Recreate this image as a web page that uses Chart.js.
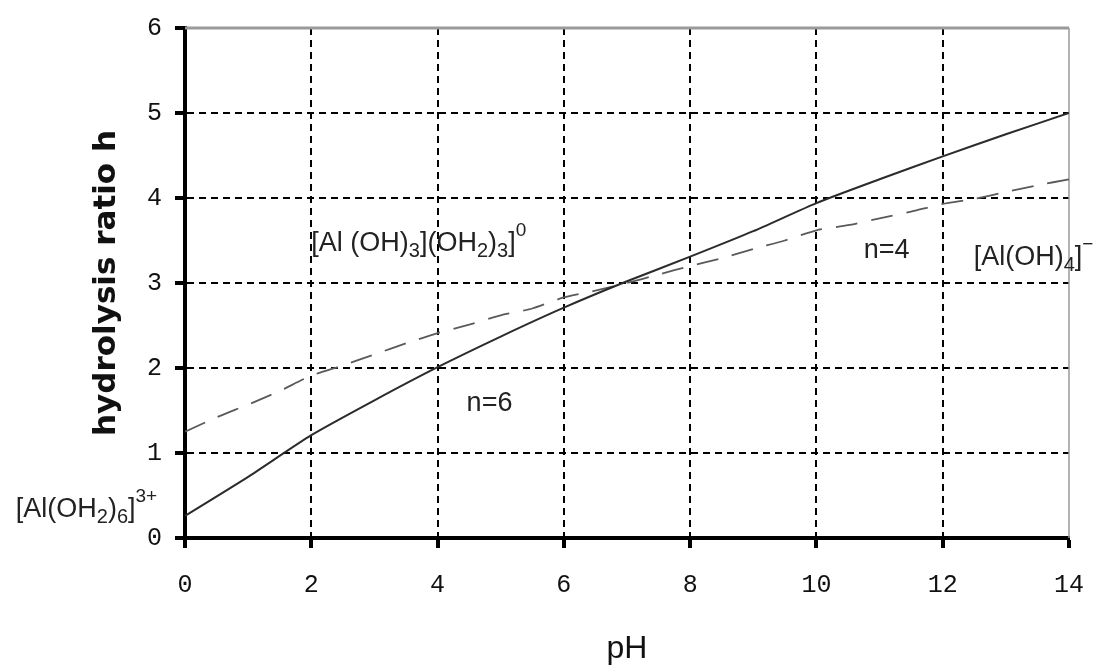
<!DOCTYPE html>
<html>
<head>
<meta charset="utf-8">
<script src="https://cdn.jsdelivr.net/npm/chart.js@4.4.0/dist/chart.umd.min.js"></script>
<style>
  body { margin: 0; background: #fff; }
  #wrap { width: 1106px; height: 667px; }
</style>
</head>
<body>
<div id="wrap"><canvas id="chart" width="1106" height="667"></canvas></div>
<script>
// n=6 curve (solid)
const phN6 = [0, 1, 2, 3, 4, 5, 6, 7, 8, 9, 10, 11, 12, 13, 14];
const hN6 = [0.26, 0.72, 1.21, 1.62, 2.01, 2.37, 2.71, 3.02, 3.31, 3.61, 3.94, 4.22, 4.49, 4.75, 5.0];

// n=4 curve (dashed)
const phN4 = [0, 0.5, 1, 1.5, 2, 2.5, 3, 3.5, 4, 4.5, 5, 5.5, 6, 6.5, 7, 7.5, 8, 8.5, 9, 9.5, 10, 10.5, 11, 11.5, 12, 12.5, 13, 13.5, 14];
const hN4 = [1.25, 1.42, 1.57, 1.73, 1.91, 2.03, 2.16, 2.29, 2.41, 2.51, 2.62, 2.70, 2.83, 2.91, 3.0, 3.1, 3.2, 3.29, 3.40, 3.50, 3.62, 3.68, 3.76, 3.84, 3.93, 3.99, 4.07, 4.15, 4.22];

const xRange = [0, 14];
const yRange = [0, 6];

// text labels on the plot, anchored in data units
const notes = [
    { x: -2.68, y: 0.244, parts: [["[Al(OH", 0], ["2", 1], [")", 0], ["6", 1], ["]", 0], ["3+", 2]] },
    { x: 2.0, y: 3.38, parts: [["[Al (OH", 0], [")", 0], ["3", 1], ["](OH", 0], ["2", 1], [")", 0], ["3", 1], ["]", 0], ["0", 2]] },
    { x: 10.75, y: 3.29, parts: [["n=4", 0]] },
    { x: 12.49, y: 3.21, parts: [["[Al(OH)", 0], ["4", 1], ["]", 0], ["\u2212", 2]] },
    { x: 4.46, y: 1.49, parts: [["n=6", 0]] },
];

const toPoints = (xs, ys) => xs.map((v, i) => ({ x: v, y: ys[i] }));

const framePlugin = {
    id: "frame",
    beforeDatasetsDraw(chart) {
        const { ctx, chartArea: a } = chart;
        ctx.save();
        ctx.strokeStyle = "#9a9a9a";
        ctx.lineWidth = 3;
        ctx.beginPath();
        ctx.moveTo(a.left, a.top);
        ctx.lineTo(a.right, a.top);
        ctx.stroke();
        ctx.lineWidth = 1.5;
        ctx.beginPath();
        ctx.moveTo(a.right, a.top);
        ctx.lineTo(a.right, a.bottom);
        ctx.stroke();
        ctx.restore();
    },
};

const notesPlugin = {
    id: "notes",
    afterDatasetsDraw(chart) {
        const { ctx } = chart;
        const xs = chart.scales.x;
        const ys = chart.scales.y;
        ctx.save();
        ctx.fillStyle = "#222";
        ctx.textBaseline = "alphabetic";
        ctx.textAlign = "left";
        notes.forEach((n) => {
            let px = xs.getPixelForValue(n.x);
            const py = ys.getPixelForValue(n.y);
            n.parts.forEach(([t, kind]) => {
                let size = 27, dy = 0;
                if (kind === 1) { size = 20; dy = 6; }
                if (kind === 2) { size = 19; dy = -15; }
                ctx.font = size + "px 'Liberation Sans', Arial, sans-serif";
                ctx.fillText(t, px, py + dy);
                px += ctx.measureText(t).width;
            });
        });
        ctx.restore();
    },
};

new Chart(document.getElementById("chart"), {
    type: "line",
    data: {
        datasets: [
            {
                label: "n=6",
                data: toPoints(phN6, hN6),
                borderColor: "#2b2b2b",
                borderWidth: 2,
                pointRadius: 0,
                tension: 0.2,
            },
            {
                label: "n=4",
                data: toPoints(phN4, hN4),
                borderColor: "#5a5a5a",
                borderWidth: 1.8,
                borderDash: [22, 14],
                pointRadius: 0,
                tension: 0.2,
            },
        ],
    },
    options: {
        responsive: false,
        animation: false,
        devicePixelRatio: 1,
        layout: { padding: { top: 22, right: 33, left: 0, bottom: 0 } },
        plugins: { legend: { display: false }, tooltip: { enabled: false } },
        scales: {
            x: {
                type: "linear",
                min: xRange[0],
                max: xRange[1],
                afterFit: (s) => { s.height = 129; },
                ticks: {
                    stepSize: 2,
                    padding: 22,
                    color: "#111",
                    font: { family: "'Liberation Mono', monospace", size: 25 },
                },
                grid: {
                    color: (c) => (c.tick && (c.tick.value === 0 || c.tick.value === 14) ? "rgba(0,0,0,0)" : "#000"),
                    lineWidth: 2,
                    tickColor: "#000",
                    tickLength: 10,
                    tickWidth: 4,
                },
                border: { color: "#000", width: 4, dash: [7, 5] },
                title: {
                    display: true,
                    text: "pH",
                    color: "#111",
                    font: { family: "'Liberation Sans', Arial, sans-serif", size: 32, lineHeight: 1 },
                    padding: { top: 0, bottom: 2 },
                },
            },
            y: {
                min: yRange[0],
                max: yRange[1],
                afterFit: (s) => { s.width = 185; },
                ticks: {
                    stepSize: 1,
                    padding: 13,
                    color: "#111",
                    font: { family: "'Liberation Mono', monospace", size: 25 },
                },
                grid: {
                    color: (c) => (c.tick && (c.tick.value === 0 || c.tick.value === 6) ? "rgba(0,0,0,0)" : "#000"),
                    lineWidth: 2,
                    tickColor: "#000",
                    tickLength: 10,
                    tickWidth: 4,
                },
                border: { color: "#000", width: 4, dash: [7, 5] },
                title: {
                    display: true,
                    text: "hydrolysis ratio h",
                    color: "#111",
                    font: { family: "'DejaVu Sans', sans-serif", size: 31, weight: "bold", lineHeight: 1 },
                    padding: { top: 91, bottom: 0 },
                },
            },
        },
    },
    plugins: [framePlugin, notesPlugin],
});
</script>
</body>
</html>
